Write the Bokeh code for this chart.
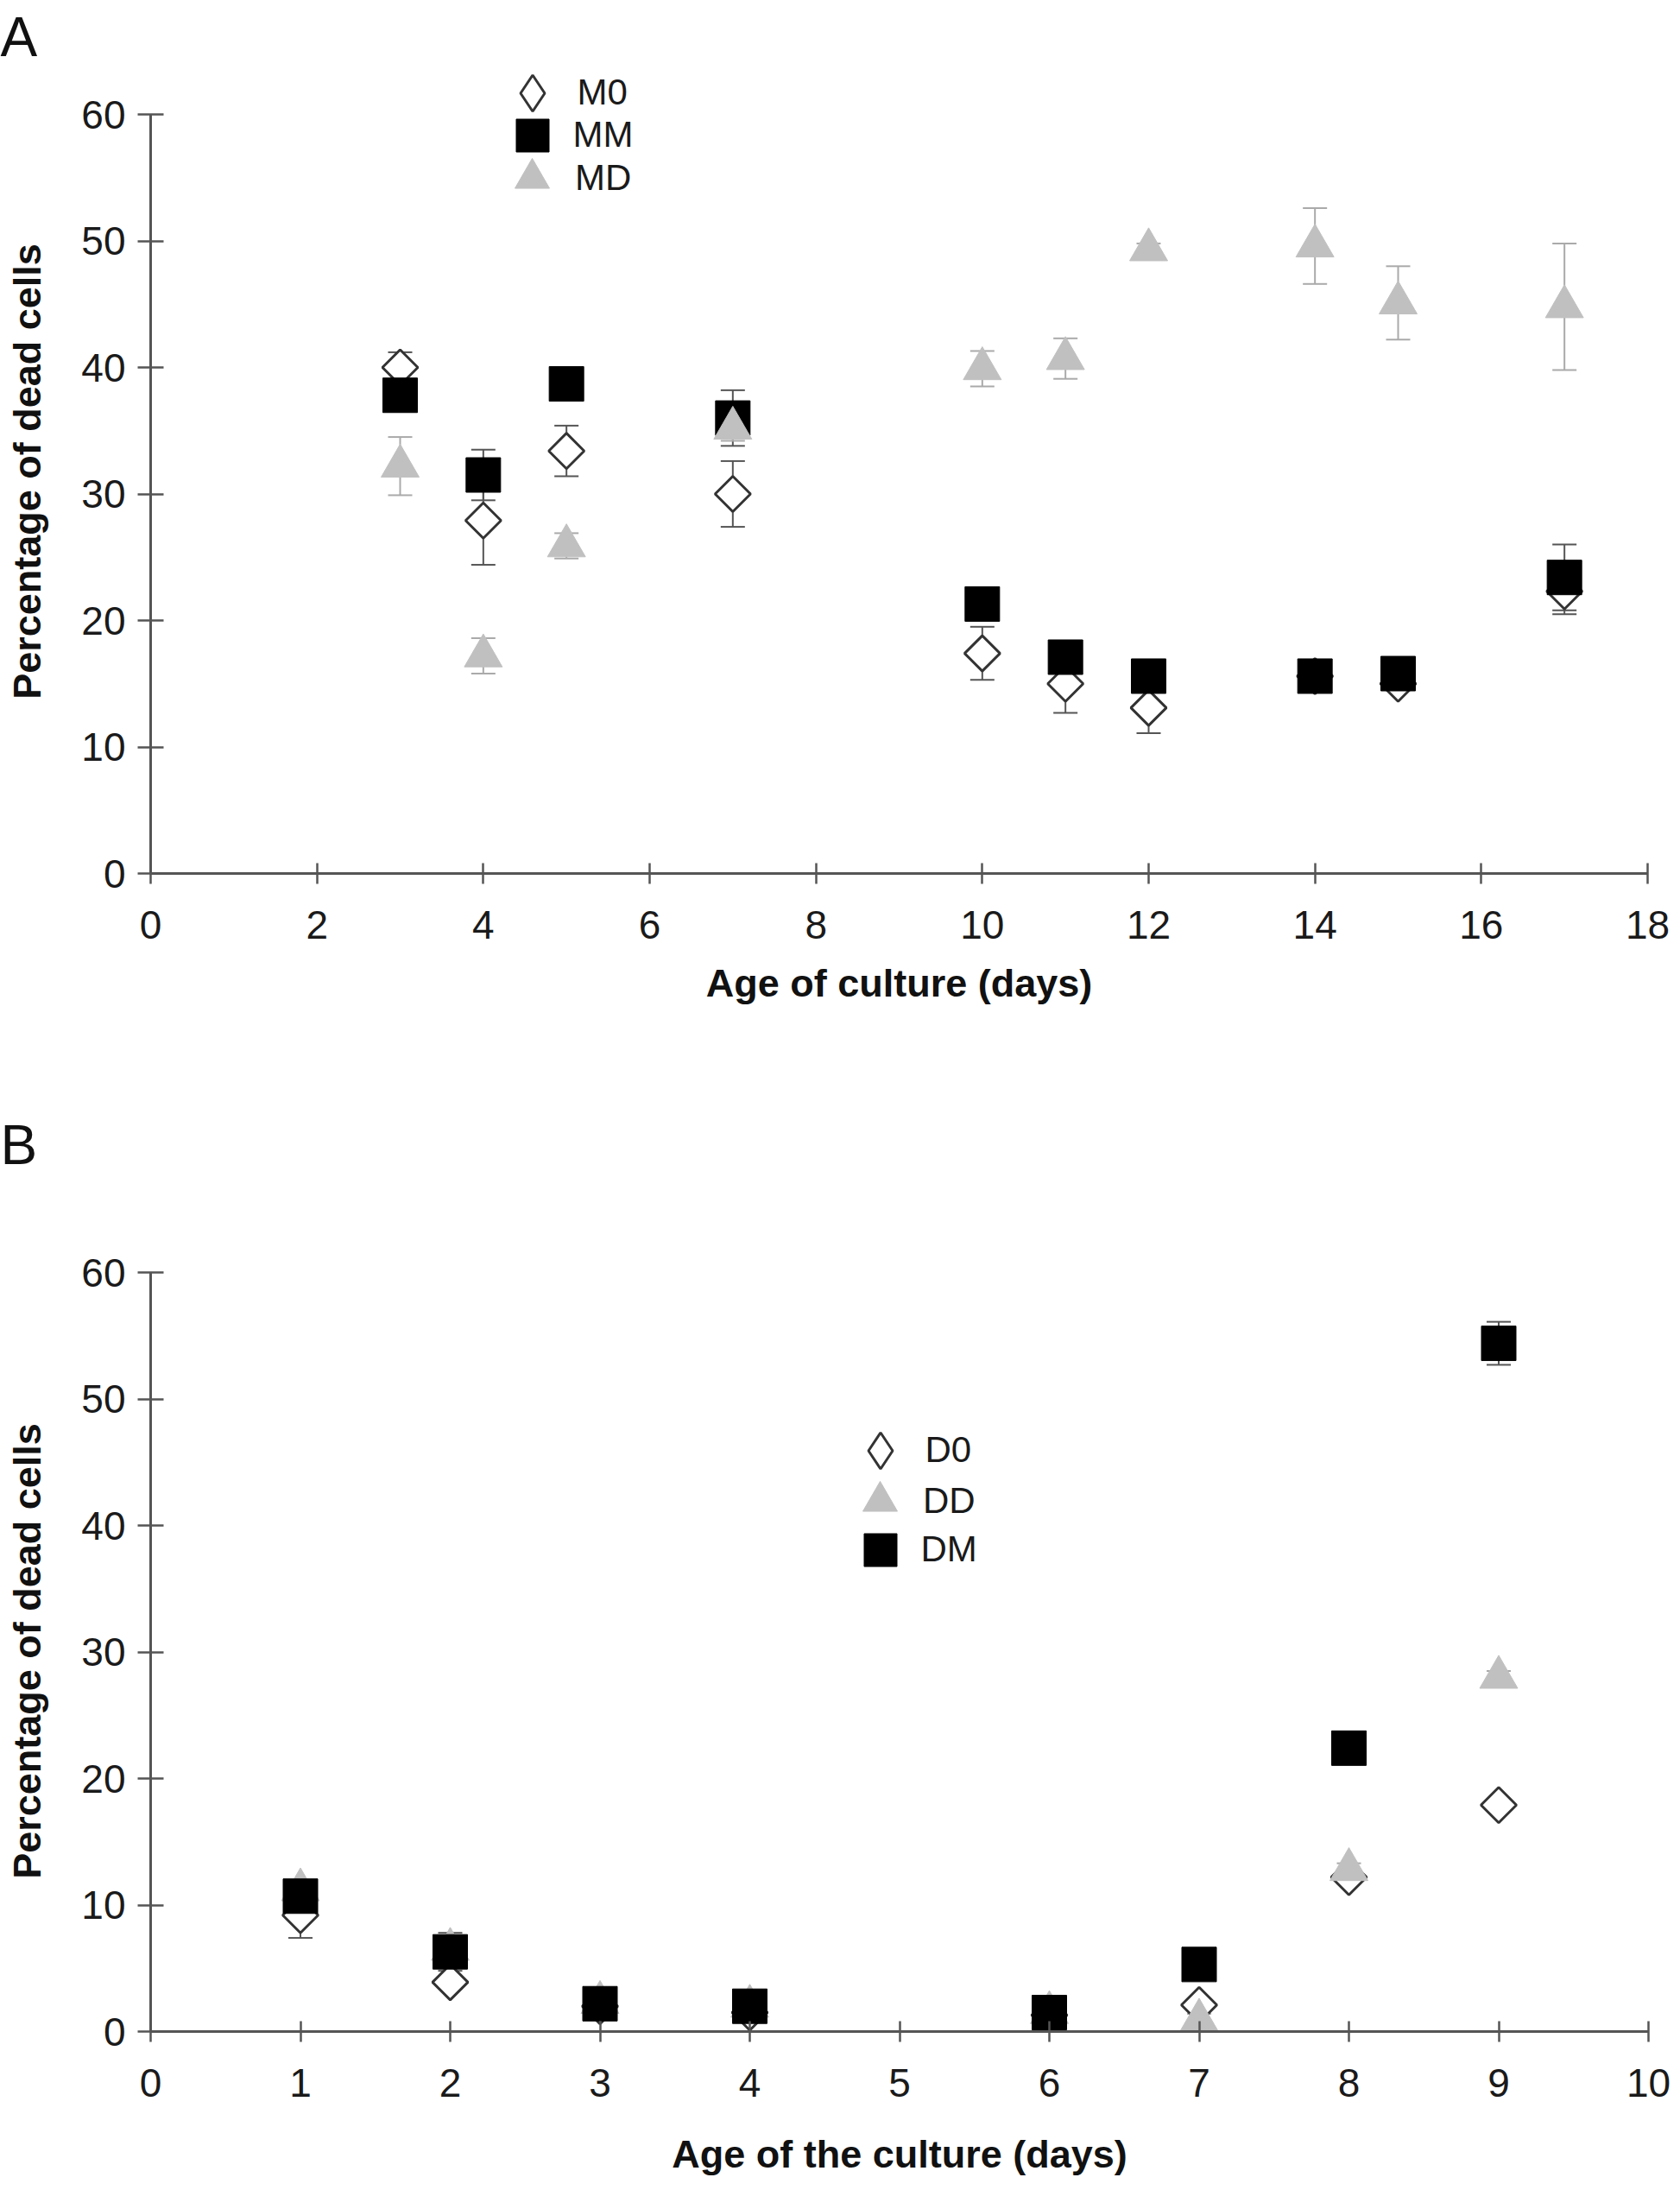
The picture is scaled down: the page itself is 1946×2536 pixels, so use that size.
from math import pi

from bokeh.plotting import figure
from bokeh.layouts import column
from bokeh.models import (Range1d, FixedTicker, ColumnDataSource, Whisker, TeeHead,
                          Legend, LegendItem)
from bokeh.embed import file_html
from bokeh.resources import INLINE

# Panel A: cultures in M medium (days, % dead cells, error)
days_a = [3, 4, 5, 7, 10, 11, 12, 14, 15, 17]
m0 = [40.0, 27.9, 33.4, 30.0, 17.4, 15.0, 13.1, 15.6, 15.0, 22.3]
m0_err = [1.2, 3.5, 2.0, 2.6, 2.1, 2.3, 2.0, 0.5, 0.5, 1.8]
mm = [37.8, 31.5, 38.7, 36.0, 21.3, 17.1, 15.6, 15.6, 15.8, 23.4]
mm_err = [0.5, 2.0, 0.5, 2.2, 0.5, 0.5, 0.5, 0.5, 0.5, 2.6]
md = [32.2, 17.2, 25.9, 35.2, 39.9, 40.7, 49.3, 49.6, 45.1, 44.8]
md_err = [2.3, 1.4, 1.0, 1.0, 1.4, 1.6, 0.5, 3.0, 2.9, 5.0]

# Panel B: cultures in D medium
days_b = [1, 2, 3, 4, 6, 7, 8, 9]
d0 = [9.2, 3.9, 2.0, 1.5, 1.3, 2.1, 12.2, 17.9]
d0_err = [1.8, 0.5, 0.5, 0.5, 0.5, 0.5, 0.5, 0.5]
dd = [11.2, 6.5, 2.3, 2.0, 1.5, 0.9, 12.8, 28.0]
dd_err = [0.5, 0.5, 0.5, 0.5, 0.5, 0.5, 0.5, 0.5]
dm = [10.7, 6.3, 2.2, 2.0, 1.5, 5.3, 22.4, 54.4]
dm_err = [0.5, 1.5, 0.5, 0.5, 0.5, 0.5, 0.5, 1.7]

FONT = "Liberation Sans"
PX60 = 879  # pixels spanned by 0..60 on the y axis

STYLES = {
    "diamond": dict(marker="square", angle=pi / 4, size=29, fill_color="white",
                    line_color="#333333", line_width=3),
    "square": dict(marker="square", angle=0, size=40, fill_color="black",
                   line_color="black", line_width=1),
    "triangle": dict(marker="triangle", angle=0, size=44, fill_color="#c0c0c0",
                     line_color="#c0c0c0", line_width=1),
}
ERR_COLOR = {"diamond": "#555555", "square": "#555555", "triangle": "#aaaaaa"}
KEY_BOX = {"diamond": 105, "square": 95, "triangle": 100}


def make_panel(days, series, x_end, x_step, letter, letter_standoff, x_title,
               title_standoff, fw, fh, top, bottom, legend_cx, legend_rows):
    p = figure(frame_width=fw, frame_height=fh, min_border_left=174, min_border_right=28,
               min_border_top=top, min_border_bottom=bottom,
               x_range=Range1d(0, x_end), y_range=Range1d(0, 60 * fh / PX60),
               output_backend="svg", toolbar_location=None, tools="",
               background_fill_color="white", border_fill_color="white")
    p.grid.grid_line_color = None
    p.outline_line_color = None

    # panel letter as the figure title; a blank second line lifts it higher
    p.title.text = letter
    p.title.text_font = FONT
    p.title.text_font_size = "64px"
    p.title.text_font_style = "normal"
    p.title.text_color = "#111111"
    p.title.align = "left"
    p.title.vertical_align = "top"
    p.title.offset = -174
    p.title.standoff = letter_standoff

    for ax in (p.xaxis[0], p.yaxis[0]):
        ax.axis_line_color = "#555555"
        ax.axis_line_width = 3
        ax.major_tick_line_color = "#555555"
        ax.major_tick_line_width = 2.5
        ax.minor_tick_line_color = None
        ax.major_label_text_font = FONT
        ax.major_label_text_font_size = "46px"
        ax.major_label_text_color = "#1a1a1a"
        ax.axis_label_text_font = FONT
        ax.axis_label_text_font_size = "45px"
        ax.axis_label_text_font_style = "bold"
        ax.axis_label_text_color = "#111111"

    p.xaxis.ticker = FixedTicker(ticks=list(range(0, x_end + 1, x_step)))
    p.xaxis.major_tick_in = 12
    p.xaxis.major_tick_out = 12
    p.xaxis.major_label_standoff = 31
    p.xaxis.axis_label = x_title
    p.xaxis.axis_label_standoff = title_standoff

    p.yaxis.ticker = FixedTicker(ticks=list(range(0, 61, 10)))
    p.yaxis.bounds = (0, 60)
    p.yaxis.major_tick_in = 15
    p.yaxis.major_tick_out = 15
    p.yaxis.major_label_standoff = 14
    p.yaxis.axis_label = "Percentage of dead cells"
    p.yaxis.axis_label_standoff = 34

    for i, (name, vals, errs, kind) in enumerate(series):
        src = ColumnDataSource(data=dict(
            x=days, y=vals,
            lower=[v - e for v, e in zip(vals, errs)],
            upper=[v + e for v, e in zip(vals, errs)]))
        col = ERR_COLOR[kind]
        p.add_layout(Whisker(source=src, base="x", lower="lower", upper="upper",
                             line_color=col, line_width=2,
                             lower_head=TeeHead(size=28, line_color=col, line_width=2),
                             upper_head=TeeHead(size=28, line_color=col, line_width=2)))
        st = STYLES[kind]
        r = p.scatter("x", "y", source=src, **st)

        # legends do not rotate markers, so the diamond key gets its own
        # renderer (one NaN point: nothing shows in the plot itself)
        key = r
        if kind == "diamond":
            key = p.scatter(x=[float("nan")], y=[float("nan")], marker="diamond",
                            fill_color="white", line_color="#333333", line_width=3)
        g = KEY_BOX[kind]
        cy = legend_rows[i]
        leg = Legend(items=[LegendItem(label=name, renderers=[key])],
                     location=(legend_cx - g / 2, fh - (cy + g / 2)),
                     glyph_width=g, glyph_height=g, padding=0, margin=0, spacing=0,
                     label_standoff=0,
                     label_text_font=FONT, label_text_font_size="42px",
                     label_text_color="#1a1a1a",
                     border_line_alpha=0, background_fill_alpha=0,
                     inactive_fill_alpha=0)
        p.add_layout(leg)

    return p


# frame of A starts at y=80 of the figure so that its key fits inside the frame
pa = make_panel(days_a,
                [("M0", m0, m0_err, "diamond"),
                 ("MM", mm, mm_err, "square"),
                 ("MD", md, md_err, "triangle")],
                18, 2, "A", 0, "Age of culture (days)", 23,
                1734, 931, 80, 235,
                442, [27, 76, 126])

pb = make_panel(days_b,
                [("D0", d0, d0_err, "diamond"),
                 ("DD", dd, dd_err, "triangle"),
                 ("DM", dm, dm_err, "square")],
                10, 1, "B\n ", 72, "Age of the culture (days)", 38,
                1735, 881, 225, 168,
                845, [208, 267, 323])

layout = column(pa, pb, spacing=0)
open("out.html", "w").write(file_html(layout, INLINE))
